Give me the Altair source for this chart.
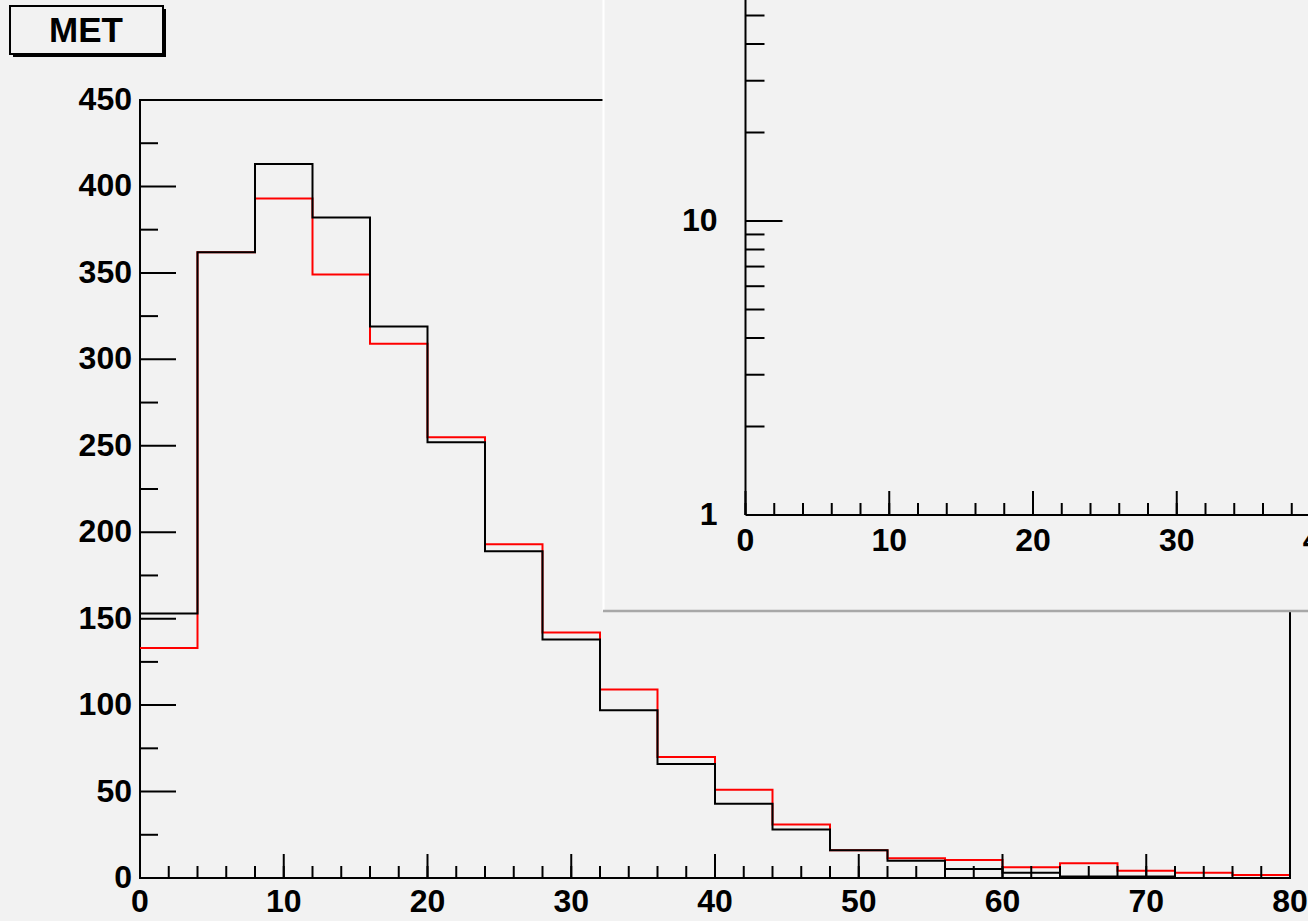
import altair as alt
import pandas as pd

# ---------------- data ----------------
bin_edges = [0, 4, 8, 12, 16, 20, 24, 28, 32, 36, 40, 44, 48, 52, 56, 60, 64, 68, 72, 76, 80]
black_counts = [153, 362, 413, 382, 319, 252, 189, 138, 97, 66, 43, 28, 16, 10, 5.2, 3.0, 0.8, 0.8, 0, 0]
red_counts = [133, 362, 393, 349, 309, 255, 193, 142, 109, 70, 51, 31, 16, 11.4, 10.4, 6.2, 8.5, 4.2, 3.1, 1.7]

x_major_ticks = [0, 10, 20, 30, 40, 50, 60, 70, 80]
x_minor_ticks = list(range(0, 81, 2))
y_major_ticks = [0, 50, 100, 150, 200, 250, 300, 350, 400, 450]
y_minor_ticks = [25, 75, 125, 175, 225, 275, 325, 375, 425]
x_labels = ["0", "10", "20", "30", "40", "50", "60", "70", "80"]
y_labels = ["0", "50", "100", "150", "200", "250", "300", "350", "400", "450"]

inset_x_label_vals = [0, 10, 20, 30, 40]
inset_x_labels = ["0", "10", "20", "30", "40"]
inset_y_minor = [2, 3, 4, 5, 6, 7, 8, 9, 20, 30, 40, 50]
inset_y_major = [10]
inset_y_label_vals = [1, 10]
inset_y_labels = ["1", "10"]
title_text = "MET"

# ---------------- layout ----------------
W, H = 1150, 778
FONT = "Liberation Sans"
FS = 32
BG = "#f2f2f2"

MX = alt.Scale(domain=[0, 80], range=[0, W], nice=False, zero=False)
MY = alt.Scale(domain=[0, 450], range=[H, 0], nice=False, zero=False)
IX = alt.Scale(domain=[0, 80], range=[605.5, 605.5 + W], nice=False, zero=False)
IY = alt.Scale(type="log", domain=[1, 10], range=[415, 121], nice=False)


def step_df(vals):
    return pd.DataFrame({"x": bin_edges, "y": list(vals) + [vals[-1]]})


def hist(vals, color):
    return alt.Chart(step_df(vals)).mark_line(
        interpolate="step-after", color=color, strokeWidth=2, strokeJoin="miter"
    ).encode(
        x=alt.X("x:Q", scale=MX, axis=None),
        y=alt.Y("y:Q", scale=MY, axis=None),
    )


def xticks(vals, xs, ys, y0, length):
    return alt.Chart(pd.DataFrame({"v": vals})).mark_rule(
        color="black", strokeWidth=2, y2Offset=-length
    ).encode(
        x=alt.X("v:Q", scale=xs, axis=None),
        y=alt.YDatum(y0, scale=ys, axis=None),
        y2=alt.Y2Datum(y0),
    )


def yticks(vals, xs, ys, x0, length):
    return alt.Chart(pd.DataFrame({"v": vals})).mark_rule(
        color="black", strokeWidth=2, x2Offset=length
    ).encode(
        y=alt.Y("v:Q", scale=ys, axis=None),
        x=alt.XDatum(x0, scale=xs, axis=None),
        x2=alt.X2Datum(x0),
    )


def xlabels(vals, labs, xs, ys, y0, dy):
    return alt.Chart(pd.DataFrame({"v": vals, "t": labs})).mark_text(
        font=FONT, fontSize=FS, fontWeight="bold", color="black",
        baseline="top", align="center", dy=dy
    ).encode(
        x=alt.X("v:Q", scale=xs, axis=None),
        y=alt.YDatum(y0, scale=ys, axis=None),
        text="t:N",
    )


def ylabels(vals, labs, xs, ys, x0, dx):
    return alt.Chart(pd.DataFrame({"v": vals, "t": labs})).mark_text(
        font=FONT, fontSize=FS, fontWeight="bold", color="black",
        baseline="middle", align="right", dx=dx
    ).encode(
        y=alt.Y("v:Q", scale=ys, axis=None),
        x=alt.XDatum(x0, scale=xs, axis=None),
        text="t:N",
    )


one = pd.DataFrame({"x0": [0], "x1": [80], "y0": [0], "y1": [450], "t": [title_text]})

frame = alt.Chart(one).mark_rect(
    fillOpacity=0, stroke="black", strokeWidth=2
).encode(
    x=alt.X("x0:Q", scale=MX, axis=None), x2="x1:Q",
    y=alt.Y("y0:Q", scale=MY, axis=None), y2="y1:Q",
)

# inset pad (log-scale panel overlapping top right)
inset_bg = alt.Chart(one).mark_rect(fill=BG).encode(
    x=alt.value(463), x2=alt.value(1200), y=alt.value(-100), y2=alt.value(511)
)
inset_left_edge = alt.Chart(one).mark_rule(color="white", strokeWidth=2).encode(
    x=alt.value(463.5), y=alt.value(-100), y2=alt.value(511)
)
inset_bottom_edge = alt.Chart(one).mark_rule(color="#a8a8a8", strokeWidth=2.5).encode(
    x=alt.value(463), x2=alt.value(1200), y=alt.value(511)
)
inset_axes_df = pd.DataFrame({"x0": [0], "x1": [80], "y0": [1], "y1": [100]})
inset_xaxis = alt.Chart(inset_axes_df).mark_rule(color="black", strokeWidth=2).encode(
    x=alt.X("x0:Q", scale=IX, axis=None), x2="x1:Q",
    y=alt.Y("y0:Q", scale=IY, axis=None),
)
inset_yaxis = alt.Chart(inset_axes_df).mark_rule(color="black", strokeWidth=2).encode(
    x=alt.X("x0:Q", scale=IX, axis=None),
    y=alt.Y("y0:Q", scale=IY, axis=None), y2="y1:Q",
)

# title box
title_shadow = alt.Chart(one).mark_rect(fill="black").encode(
    x=alt.value(-127), x2=alt.value(26), y=alt.value(-91), y2=alt.value(-43)
)
title_box = alt.Chart(one).mark_rect(fill=BG, stroke="black", strokeWidth=2).encode(
    x=alt.value(-130), x2=alt.value(23), y=alt.value(-94), y2=alt.value(-46)
)
title_label = alt.Chart(one).mark_text(
    font=FONT, fontSize=35, fontWeight="bold", color="black",
    align="center", baseline="middle"
).encode(x=alt.value(-54), y=alt.value(-69), text="t:N")

layers = [
    frame,
    hist(red_counts, "#ff0000"),
    hist(black_counts, "#000000"),
    xticks(x_minor_ticks, MX, MY, 0, 12),
    xticks(x_major_ticks, MX, MY, 0, 24),
    yticks(y_minor_ticks, MX, MY, 0, 18),
    yticks(y_major_ticks, MX, MY, 0, 36),
    xlabels(x_major_ticks, x_labels, MX, MY, 0, 9),
    ylabels(y_major_ticks, y_labels, MX, MY, 0, -8),
    inset_bg,
    inset_left_edge,
    inset_bottom_edge,
    inset_xaxis,
    inset_yaxis,
    xticks(x_minor_ticks, IX, IY, 1, 12),
    xticks(x_major_ticks, IX, IY, 1, 24),
    yticks(inset_y_minor, IX, IY, 0, 19),
    yticks(inset_y_major, IX, IY, 0, 37),
    xlabels(inset_x_label_vals, inset_x_labels, IX, IY, 1, 11),
    ylabels(inset_y_label_vals, inset_y_labels, IX, IY, 0, -28),
    title_shadow,
    title_box,
    title_label,
]

chart = alt.layer(*layers).resolve_scale(
    x="independent", y="independent"
).properties(
    width=W, height=H,
    padding={"left": 140, "top": 100, "right": 18, "bottom": 43},
    autosize=alt.AutoSizeParams(type="none"),
    background=BG,
).configure_view(strokeWidth=0)

chart.save("out.html", embed_options={"renderer": "svg", "actions": False})
